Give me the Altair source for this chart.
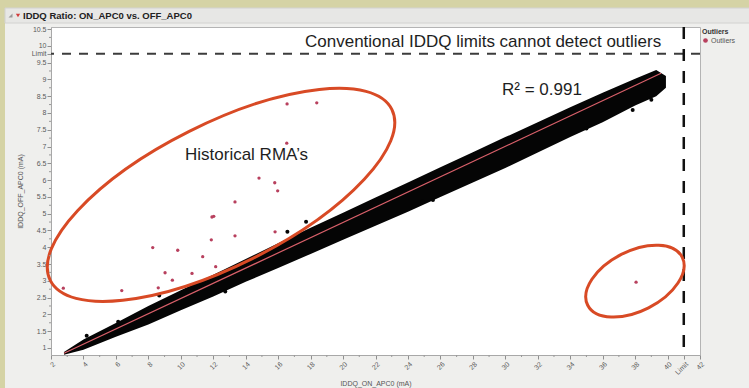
import altair as alt
import pandas as pd

# ---------------- data ----------------
# dense main population (drawn as a filled band: lower / upper envelope)
band_x = [2.8, 4, 6, 8, 10, 12, 14, 16, 18, 20, 22, 24, 26, 28, 30, 32, 34, 36, 38, 39.3, 39.9]
band_hi = [0.88, 1.25, 1.74, 2.25, 2.72, 3.18, 3.65, 4.12, 4.58, 5.03, 5.48, 5.93, 6.38, 6.83, 7.28, 7.72, 8.17, 8.60, 9.02, 9.28, 9.10]
band_lo = [0.80, 0.95, 1.33, 1.70, 2.12, 2.53, 2.97, 3.38, 3.80, 4.22, 4.64, 5.06, 5.50, 5.93, 6.36, 6.82, 7.28, 7.72, 8.22, 8.50, 8.75]

# stray black points just outside the band
stray_x = [4.2, 6.14, 8.67, 12.74, 16.57, 17.72, 20.4, 24.9, 25.54, 35.0, 37.85, 39.0]
stray_y = [1.36, 1.78, 2.56, 2.68, 4.46, 4.76, 4.46, 5.36, 5.41, 7.54, 8.09, 8.39]

# fit line
fit_x = [2.8, 39.6]
fit_y = [0.84, 9.18]

# outliers (red)
out_x = [2.76, 6.36, 8.27, 8.61, 9.03, 9.48, 9.81, 10.69, 11.35, 11.88, 11.92, 12.03, 12.15,
         13.34, 13.34, 14.82, 15.79, 15.81, 15.97, 16.53, 16.55, 18.38, 38.06]
out_y = [2.78, 2.71, 3.99, 2.79, 3.24, 3.02, 3.91, 3.22, 3.72, 4.22, 4.90, 4.92, 3.42,
         5.35, 4.34, 6.06, 5.92, 4.46, 5.68, 7.10, 8.27, 8.30, 2.96]

# limits
limit_x = [41]
limit_y = [9.76]

# ellipse annotation centres (data units)
ell_big = {"x": [12.48], "y": [5.56]}
ell_small = {"x": [37.99], "y": [2.99]}

# axis ticks
x_ticks = [2, 4, 6, 8, 10, 12, 14, 16, 18, 20, 22, 24, 26, 28, 30, 32, 34, 36, 38, 40, 41, 42]
y_ticks = [1, 1.5, 2, 2.5, 3, 3.5, 4, 4.5, 5, 5.5, 6, 6.5, 7, 7.5, 8, 8.5, 9, 9.5, 9.76, 10, 10.5]
x_minor = [3, 5, 7, 9, 11, 13, 15, 17, 19, 21, 23, 25, 27, 29, 31, 33, 35, 37, 39]
y_minor = [1.25, 1.75, 2.25, 2.75, 3.25, 3.75, 4.25, 4.75, 5.25, 5.75, 6.25, 6.75, 7.25, 7.75,
           8.25, 8.75, 9.25, 10.25]

# ---------------- layout ----------------
W, H = 649, 328
PL, PT = 51, 27
FONT = "Liberation Sans"
AX_FONT = "Liberation Sans"

xs = alt.Scale(domain=[2, 42], nice=False, zero=False)
ys = alt.Scale(domain=[0.79, 10.56], nice=False, zero=False)

x_axis = alt.Axis(values=x_ticks, labelAngle=-45, labelOverlap=False, format="d",
                  labelExpr="datum.value == 41 ? 'Limit' : datum.label",
                  title="IDDQ_ON_APC0 (mA)", titleY=24, titleFont=AX_FONT, titleFontSize=7,
                  titleFontWeight="normal", titleColor="#555555",
                  grid=False, tickSize=4, labelPadding=1)
y_axis = alt.Axis(values=y_ticks, labelOverlap=False, format=".1~f",
                  labelExpr="datum.value == 9.76 ? 'Limit' : datum.label",
                  title="IDDQ_OFF_APC0 (mA)", titleX=-28, titleFont=AX_FONT, titleFontSize=7,
                  titleFontWeight="normal", titleColor="#555555",
                  grid=False, tickSize=4, labelPadding=1)


def X(f):
    return alt.X(f, type="quantitative", scale=xs, axis=x_axis)


def Y(f):
    return alt.Y(f, type="quantitative", scale=ys, axis=y_axis)


one = pd.DataFrame({"k": [0]})

# frame decorations (pixel positions relative to plot origin)
khaki_left = alt.Chart(one).mark_rect(color="#d5d3a5").encode(
    x=alt.value(-PL), x2=alt.value(-PL + 5), y=alt.value(-PT), y2=alt.value(388 - PT))
khaki_top = alt.Chart(one).mark_rect(color="#d5d3a5").encode(
    x=alt.value(-PL), x2=alt.value(749 - PL), y=alt.value(-PT), y2=alt.value(-PT + 8))
title_bar = alt.Chart(one).mark_rect(color="#e7e7e5", stroke="#d2d2d0", strokeWidth=1).encode(
    x=alt.value(-PL + 5), x2=alt.value(749 - PL + 2), y=alt.value(-PT + 8), y2=alt.value(-PT + 23))
title_txt = alt.Chart(pd.DataFrame({"t": ["IDDQ Ratio: ON_APC0 vs. OFF_APC0"]})).mark_text(
    font=FONT, fontSize=9.5, fontWeight="bold", align="left", baseline="middle", color="#222222"
).encode(text="t:N", x=alt.value(-PL + 23), y=alt.value(-PT + 15.5))
icon_gray = alt.Chart(one).mark_point(shape="M1,-1L1,1L-1,1Z", filled=True, size=16,
                                      color="#9a9a9a", opacity=1).encode(
    x=alt.value(-PL + 10.5), y=alt.value(-PT + 15.5))
icon_red = alt.Chart(one).mark_point(shape="triangle-down", filled=True, size=18,
                                     color="#d23c3c", opacity=1).encode(
    x=alt.value(-PL + 18), y=alt.value(-PT + 15.5))

band_df = pd.DataFrame({"x": band_x, "lo": band_lo, "hi": band_hi})
band = alt.Chart(band_df).mark_area(color="#050505", opacity=1).encode(
    x=X("x"), y=Y("lo"), y2="hi")

stray = alt.Chart(pd.DataFrame({"x": stray_x, "y": stray_y})).mark_circle(
    color="#050505", size=16, opacity=1).encode(x=X("x"), y=Y("y"))

fit = alt.Chart(pd.DataFrame({"x": fit_x, "y": fit_y})).mark_line(
    color="#d9606a", strokeWidth=1.2).encode(x=X("x"), y=Y("y"))

outl = alt.Chart(pd.DataFrame({"x": out_x, "y": out_y, "g": ["Outliers"] * len(out_x)})).mark_circle(
    size=11, opacity=1).encode(
    x=X("x"), y=Y("y"),
    color=alt.Color("g:N", scale=alt.Scale(domain=["Outliers"], range=["#b8405e"]),
                    legend=alt.Legend(title="Outliers", orient="none", legendX=651, legendY=1,
                                      titleFont=FONT, titleFontSize=7, titleFontWeight="bold",
                                      titleColor="#333333", labelFont=FONT, labelFontSize=7,
                                      labelColor="#555555", symbolSize=22, symbolType="circle",
                                      titlePadding=2, labelOffset=2, padding=0)))

h_limit = alt.Chart(pd.DataFrame({"y": limit_y})).mark_rule(
    color="#3c3c3c", strokeWidth=2, strokeDash=[9, 8]).encode(y=Y("y"))
v_limit = alt.Chart(pd.DataFrame({"x": limit_x})).mark_rule(
    color="#111111", strokeWidth=2.5, strokeDash=[12, 10]).encode(x=X("x"))

k = 0.5523


def ell_path(r):
    kr = round(k * r, 4)
    return (f"M-1,0C-1,{-kr},{-k},{-r},0,{-r}C{k},{-r},1,{-kr},1,0"
            f"C1,{kr},{k},{r},0,{r}C{-k},{r},-1,{kr},-1,0Z")


ell1 = alt.Chart(pd.DataFrame(ell_big)).mark_point(
    shape=ell_path(0.372), size=4 * 191 ** 2, angle=333.4, filled=False,
    stroke="#d84a25", strokeWidth=3, opacity=1).encode(x=X("x"), y=Y("y"))
ell2 = alt.Chart(pd.DataFrame(ell_small)).mark_point(
    shape=ell_path(0.566), size=4 * 53 ** 2, angle=333, filled=False,
    stroke="#d84a25", strokeWidth=3, opacity=1).encode(x=X("x"), y=Y("y"))

notes = pd.DataFrame({
    "t": ["Conventional IDDQ limits cannot detect outliers", "R\u00b2 = 0.991", "Historical RMA\u2019s"],
    "px": [305 - PL, 502 - PL, 185 - PL],
    "py": [47 - PT, 95 - PT, 160 - PT],
})
note_marks = alt.Chart(notes).mark_text(font=FONT, fontSize=17, align="left",
                                        baseline="alphabetic", color="#1e1e1e").encode(
    text="t:N", x=alt.X("px:Q", scale=None), y=alt.Y("py:Q", scale=None))

xminor = alt.Chart(pd.DataFrame({"x": x_minor})).mark_rule(color="#999999", strokeWidth=1).encode(
    x=X("x"), y=alt.value(H), y2=alt.value(H + 2))
yminor = alt.Chart(pd.DataFrame({"y": y_minor})).mark_rule(color="#999999", strokeWidth=1).encode(
    y=Y("y"), x=alt.value(-2), x2=alt.value(0))

chart = alt.layer(
    khaki_left, khaki_top, title_bar, title_txt, icon_gray, icon_red,
    band, stray, fit, h_limit, v_limit, outl, ell1, ell2, note_marks, xminor, yminor
).properties(
    width=W, height=H,
    padding={"left": PL, "top": PT, "right": 749 - PL - W, "bottom": 388 - PT - H},
    autosize=alt.AutoSizeParams(type="none"),
    background="#efefed",
).configure_view(
    fill="white", stroke="#b4b4b4", strokeWidth=1
).configure_axis(
    labelFont=AX_FONT, labelFontSize=7, labelColor="#5a5a5a",
    tickColor="#8f8f8f", domainColor="#a8a8a8", tickWidth=1
)

chart.save("out.html", embed_options={"renderer": "svg", "actions": False})
